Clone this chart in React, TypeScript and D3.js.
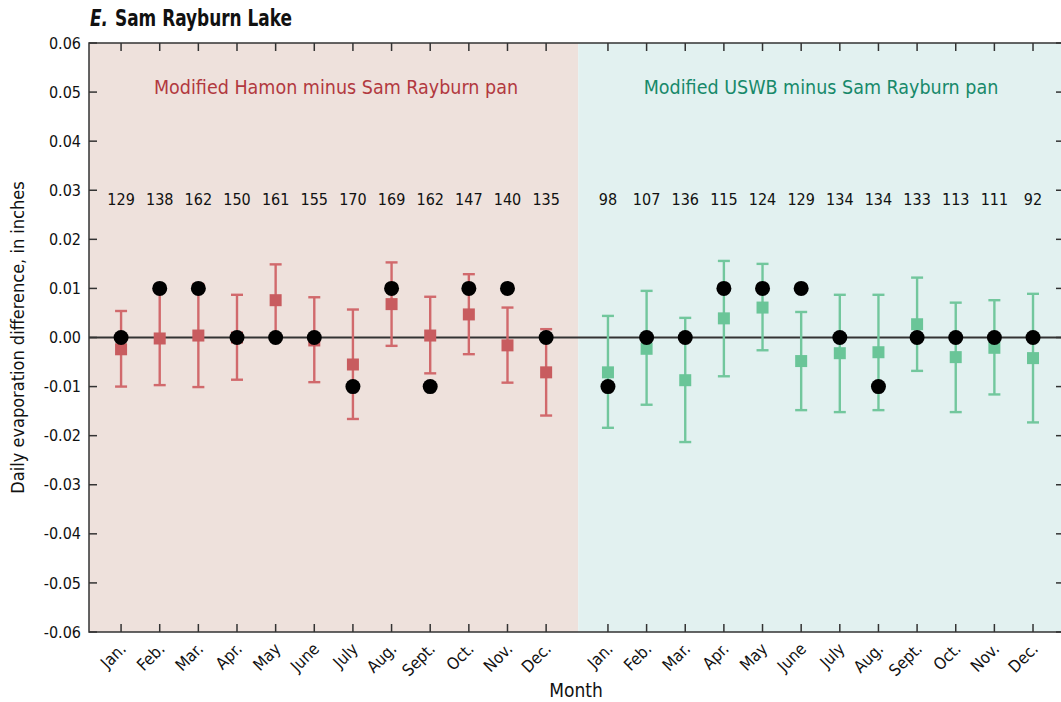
import React from "react";
import * as d3 from "d3";

// Month labels repeated for each panel
const months = ["Jan.", "Feb.", "Mar.", "Apr.", "May", "June", "July", "Aug.", "Sept.", "Oct.", "Nov.", "Dec."];

// Modified Hamon minus pan: sample counts, mean, error-bar limits, median
const hamonCounts = [129, 138, 162, 150, 161, 155, 170, 169, 162, 147, 140, 135];
const hamonMean = [-0.0024, -0.0002, 0.0004, 0.0, 0.0076, -0.0006, -0.0055, 0.0068, 0.0004, 0.0047, -0.0016, -0.0071];
const hamonLow = [-0.01, -0.0097, -0.0101, -0.0086, 0.0003, -0.0091, -0.0166, -0.0017, -0.0073, -0.0034, -0.0092, -0.0159];
const hamonHigh = [0.0054, 0.0093, 0.0109, 0.0087, 0.0149, 0.0082, 0.0057, 0.0153, 0.0083, 0.0129, 0.0061, 0.0017];
const hamonMedian = [0, 0.01, 0.01, 0, 0, 0, -0.01, 0.01, -0.01, 0.01, 0.01, 0];

// Modified USWB minus pan
const uswbCounts = [98, 107, 136, 115, 124, 129, 134, 134, 133, 113, 111, 92];
const uswbMean = [-0.0071, -0.0023, -0.0087, 0.0039, 0.0061, -0.0048, -0.0032, -0.003, 0.0027, -0.004, -0.0021, -0.0042];
const uswbLow = [-0.0184, -0.0137, -0.0213, -0.0079, -0.0026, -0.0148, -0.0152, -0.0148, -0.0068, -0.0152, -0.0116, -0.0173];
const uswbHigh = [0.0044, 0.0095, 0.004, 0.0156, 0.015, 0.0052, 0.0087, 0.0087, 0.0122, 0.0071, 0.0076, 0.0089];
const uswbMedian = [-0.01, 0, 0, 0.01, 0.01, 0.01, 0, -0.01, 0, 0, 0, 0];

const yTicks = [0.06, 0.05, 0.04, 0.03, 0.02, 0.01, 0, -0.01, -0.02, -0.03, -0.04, -0.05, -0.06];

const FONT = "'Liberation Sans Narrow', 'DejaVu Sans Condensed', 'Arial Narrow', sans-serif";

export default function App() {
  const width = 1061;
  const height = 702;
  const left = 89;
  const right = 1062;
  const top = 43;
  const bottom = 632;

  // Horizontal slot scale: left panel months at 1..12, right panel at 13.6..24.6
  const x = d3.scaleLinear().domain([0.17, 25.35]).range([left, right]);
  const y = d3.scaleLinear().domain([-0.06, 0.06]).range([bottom, top]);
  const divider = x(12.83);

  const panels = [
    {
      name: "hamon",
      offset: 1,
      counts: hamonCounts,
      mean: hamonMean,
      low: hamonLow,
      high: hamonHigh,
      median: hamonMedian,
      bar: "#d1696c",
      square: "#c85c5f",
      bg: "#eee1dc",
      x0: left,
      x1: divider,
      label: "Modified Hamon minus Sam Rayburn pan",
      labelColor: "#b2393f",
      labelX: 336,
    },
    {
      name: "uswb",
      offset: 13.6,
      counts: uswbCounts,
      mean: uswbMean,
      low: uswbLow,
      high: uswbHigh,
      median: uswbMedian,
      bar: "#72c79d",
      square: "#6ac598",
      bg: "#e2f1f0",
      x0: divider,
      x1: right,
      label: "Modified USWB minus Sam Rayburn pan",
      labelColor: "#17896a",
      labelX: 821,
    },
  ];

  const allMonthX = panels.flatMap((p) => months.map((_, i) => x(p.offset + i)));

  return (
    <svg width={width} height={height} style={{ position: "absolute", left: 0, top: 0 }} fontFamily={FONT}>
      <rect width={width} height={height} fill="#ffffff" />
      {panels.map((p) => (
        <rect key={p.name + "bg"} x={p.x0} y={top} width={p.x1 - p.x0} height={bottom - top} fill={p.bg} />
      ))}

      {/* title */}
      <text x={90} y={26} fontSize={23} fontWeight="bold" fontStyle="italic" fill="#111" textLength={18} lengthAdjust="spacingAndGlyphs">
        E.
      </text>
      <text x={115} y={26} fontSize={23} fontWeight="bold" fill="#111" textLength={177} lengthAdjust="spacingAndGlyphs">
        Sam Rayburn Lake
      </text>

      {/* frame */}
      <path d={`M${right},${top}H${left}V${bottom}H${right}`} fill="none" stroke="#333" strokeWidth={1.5} />

      {/* y ticks on both sides */}
      {yTicks.map((t) => (
        <g key={"yt" + t}>
          <line x1={left} x2={left + 8} y1={y(t)} y2={y(t)} stroke="#333" strokeWidth={1.5} />
          <line x1={right - 6} x2={right} y1={y(t)} y2={y(t)} stroke="#333" strokeWidth={1.5} />
          <text x={81} y={y(t)} dy="0.35em" textAnchor="end" fontSize={16} fill="#111">
            {t.toFixed(2)}
          </text>
        </g>
      ))}

      {/* month ticks, top and bottom */}
      {allMonthX.map((mx, i) => (
        <g key={"mt" + i}>
          <line x1={mx} x2={mx} y1={top} y2={top + 8} stroke="#333" strokeWidth={1.5} />
          <line x1={mx} x2={mx} y1={bottom} y2={bottom - 8} stroke="#333" strokeWidth={1.5} />
          <text transform={`translate(${mx + 6},${bottom + 18}) rotate(-45)`} textAnchor="end" fontSize={16.5} fill="#111">
            {months[i % 12]}
          </text>
        </g>
      ))}

      {/* zero line */}
      <line x1={left} x2={right} y1={y(0)} y2={y(0)} stroke="#333" strokeWidth={2.2} />

      {panels.map((p) => (
        <g key={p.name}>
          <text x={p.labelX} y={94} textAnchor="middle" fontSize={19.5} fill={p.labelColor}>
            {p.label}
          </text>
          {p.counts.map((c, i) => (
            <text key={"c" + i} x={x(p.offset + i)} y={205} textAnchor="middle" fontSize={16} fill="#111">
              {c}
            </text>
          ))}
          {p.mean.map((m, i) => {
            const cx = x(p.offset + i);
            return (
              <g key={"e" + i}>
                <line x1={cx} x2={cx} y1={y(p.high[i])} y2={y(p.low[i])} stroke={p.bar} strokeWidth={2.4} />
                <line x1={cx - 6} x2={cx + 6} y1={y(p.high[i])} y2={y(p.high[i])} stroke={p.bar} strokeWidth={2.4} />
                <line x1={cx - 6} x2={cx + 6} y1={y(p.low[i])} y2={y(p.low[i])} stroke={p.bar} strokeWidth={2.4} />
                <rect x={cx - 6} y={y(m) - 6} width={12} height={12} fill={p.square} />
              </g>
            );
          })}
          {p.median.map((md, i) => (
            <circle key={"m" + i} cx={x(p.offset + i)} cy={y(md)} r={7.5} fill="#000" />
          ))}
        </g>
      ))}

      {/* axis titles */}
      <text transform={`translate(24,${(top + bottom) / 2}) rotate(-90)`} textAnchor="middle" fontSize={18} fill="#111">
        Daily evaporation difference, in inches
      </text>
      <text x={576} y={697} textAnchor="middle" fontSize={19} fill="#111">
        Month
      </text>
    </svg>
  );
}
